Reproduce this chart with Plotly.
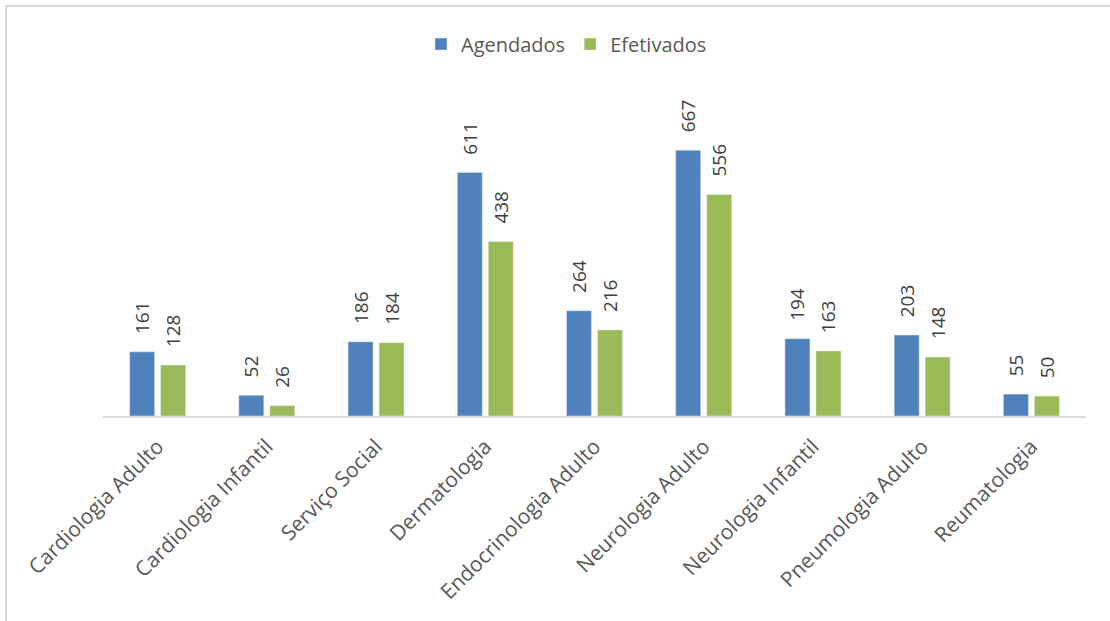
import plotly.graph_objects as go

categories = ["Cardiologia Adulto", "Cardiologia Infantil", "Serviço Social", "Dermatologia",
              "Endocrinologia Adulto", "Neurologia Adulto", "Neurologia Infantil",
              "Pneumologia Adulto", "Reumatologia"]
agendados = [161, 52, 186, 611, 264, 667, 194, 203, 55]
efetivados = [128, 26, 184, 438, 216, 556, 163, 148, 50]

FONT = "Open Sans"
PAD = "\u00a0\u00a0\u00a0"

fig = go.Figure()
for name, vals, col in [("Agendados", agendados, "#4F81BD"), ("Efetivados", efetivados, "#9BBB59")]:
    fig.add_trace(go.Bar(name=name, x=categories, y=vals,
                         marker_color=col,
                         text=[PAD + str(v) for v in vals], textposition="outside",
                         textangle=-90, cliponaxis=False, constraintext="none",
                         textfont=dict(family=FONT, size=19, color="#404040")))

fig.update_layout(
    width=1110, height=621,
    margin=dict(l=103, r=24, t=137, b=205),
    paper_bgcolor="white", plot_bgcolor="white",
    barmode="group", bargap=0.432, bargroupgap=0.194,
    font=dict(family=FONT, color="#595959"),
    showlegend=True,
    legend=dict(orientation="h", x=0.4715, xanchor="center", y=1.333, yanchor="middle",
                font=dict(size=20, color="#595959"), itemwidth=30, traceorder="normal"),
    xaxis=dict(tickangle=-45, tickfont=dict(size=21, color="#595959"),
               showline=True, linecolor="#D9D9D9", linewidth=2, ticks="",
               ticklabelstandoff=8),
    yaxis=dict(range=[0, 700], visible=False, showgrid=False),
)

# outer chart border (left and top edges visible)
fig.add_shape(type="line", xref="paper", yref="paper",
              x0=-0.0987, x1=-0.0987, y0=1.4695, y1=-0.75,
              line=dict(color="#D9D9D9", width=2))
fig.add_shape(type="line", xref="paper", yref="paper",
              x0=-0.0987, x1=1.03, y0=1.4695, y1=1.4695,
              line=dict(color="#D9D9D9", width=2))

fig.write_html("out.html", config={"displayModeBar": False},
               post_script="document.body.style.margin='0';document.body.style.overflow='hidden';")
